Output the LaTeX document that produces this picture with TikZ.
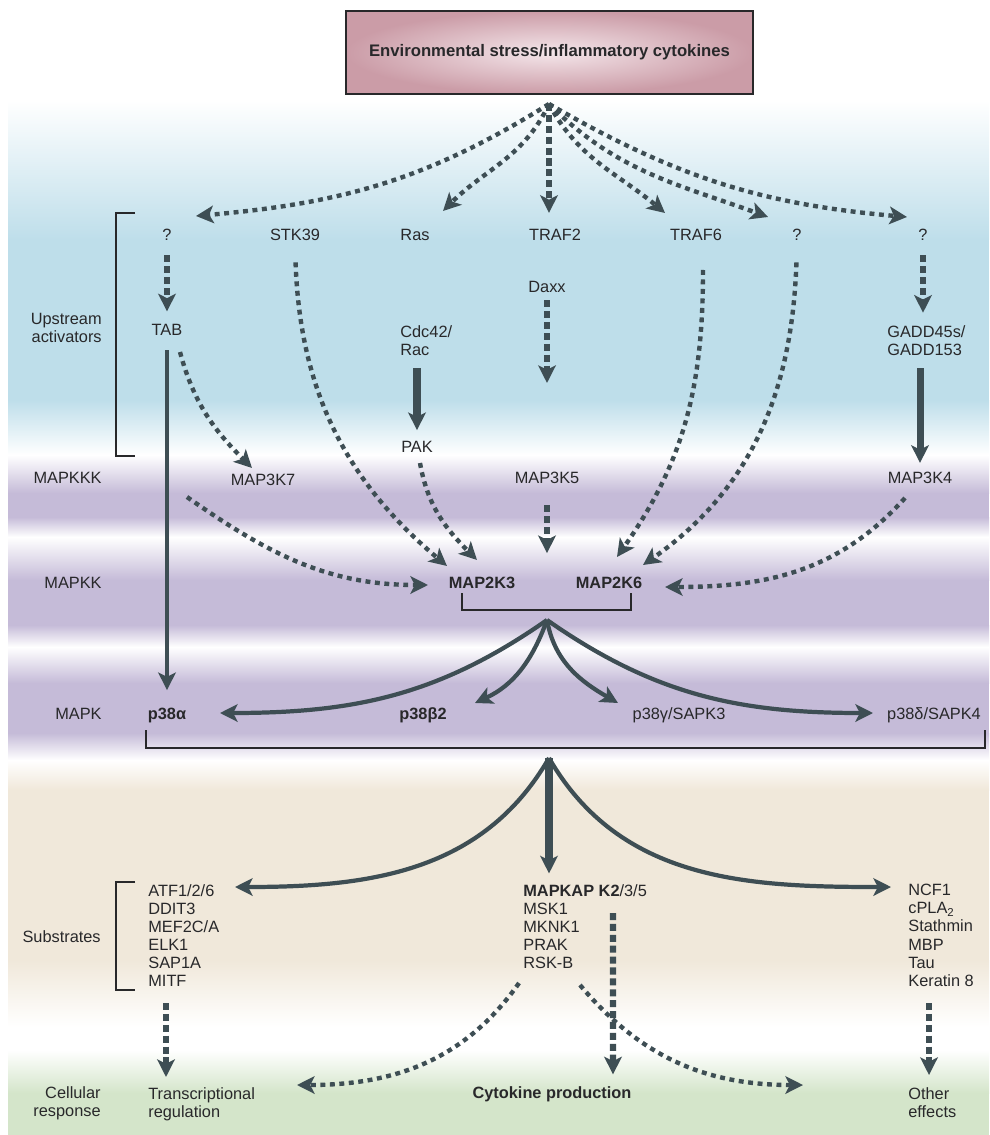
\documentclass[tikz,border=0pt]{standalone}
\usepackage{fontspec}
\setmainfont{Liberation Sans}
\usetikzlibrary{arrows.meta,calc}

\definecolor{azul}{RGB}{190,222,234}
\definecolor{lila}{RGB}{197,187,216}
\definecolor{beige}{RGB}{240,232,218}
\definecolor{verde}{RGB}{212,229,202}
\definecolor{rosa}{RGB}{203,156,167}
\definecolor{rosaclaro}{RGB}{244,230,234}
\definecolor{tinta}{RGB}{40,40,42}
\definecolor{pizarra}{RGB}{62,78,84}

\begin{document}
\begin{tikzpicture}

\tikzset{prot/.style={font=\fontsize{9.3}{10.3}\selectfont,text=tinta,text height=6.8pt,text depth=0pt,inner sep=3pt}}
\tikzset{negrita/.style={prot,font=\fontsize{9.3}{10.3}\selectfont\bfseries}}
\tikzset{lista/.style={font=\fontsize{9.3}{10.3}\selectfont,text=tinta,inner sep=0pt,anchor=north west,align=left}}
\tikzset{nivel/.style={font=\fontsize{9.3}{10.3}\selectfont,text=tinta,inner sep=0pt,anchor=east,align=right}}
\tikzset{caja/.style={draw=tinta,line width=0.9pt,minimum width=8.14cm,minimum height=1.66cm,inner color=rosaclaro,outer color=rosa,font=\fontsize{9.5}{11}\selectfont\bfseries,text=tinta}}
\tikzset{flecha/.style={-{Stealth[length=10pt,width=10pt,inset=2.5pt]},pizarra,line width=2.4pt}}
\tikzset{trazos/.style={flecha,dash pattern=on 2.8pt off 2.6pt,line width=2.5pt}}
\tikzset{trazosv/.style={flecha,dash pattern=on 4pt off 2.2pt,line width=3.6pt}}
\tikzset{corchete/.style={draw=tinta,line width=0.8pt}}

\useasboundingbox (0,0) rectangle (19.78,-22.70);

\shade[top color=white,bottom color=azul] (0.16,-2.00) rectangle (19.78,-4.80);
\fill[azul] (0.16,-4.80) rectangle (19.78,-8.00);
\shade[top color=azul,bottom color=white] (0.16,-8.00) rectangle (19.78,-9.10);
\shade[top color=white,bottom color=lila] (0.16,-9.10) rectangle (19.78,-9.86);
\fill[lila] (0.16,-9.86) rectangle (19.78,-10.34);
\shade[top color=lila,bottom color=white] (0.16,-10.34) rectangle (19.78,-10.74);
\shade[top color=white,bottom color=lila] (0.16,-10.74) rectangle (19.78,-11.60);
\fill[lila] (0.16,-11.60) rectangle (19.78,-12.50);
\shade[top color=lila,bottom color=white] (0.16,-12.50) rectangle (19.78,-12.94);
\shade[top color=white,bottom color=lila] (0.16,-12.94) rectangle (19.78,-13.66);
\fill[lila] (0.16,-13.66) rectangle (19.78,-14.66);
\shade[top color=lila,bottom color=white] (0.16,-14.66) rectangle (19.78,-15.20);
\shade[top color=white,bottom color=beige] (0.16,-15.20) rectangle (19.78,-15.80);
\fill[beige] (0.16,-15.80) rectangle (19.78,-19.20);
\shade[top color=beige,bottom color=white] (0.16,-19.20) rectangle (19.78,-20.54);
\shade[top color=white,bottom color=verde] (0.16,-21.00) rectangle (19.78,-21.86);
\fill[verde] (0.16,-21.86) rectangle (19.78,-22.70);



\draw (10.99,-1.05) node[caja](estres) {Environmental stress/inflammatory cytokines};

\draw (3.34,-4.70) node[prot](qa) {?};
\draw (5.90,-4.70) node[prot](stk) {STK39};
\draw (8.30,-4.70) node[prot](ras) {Ras};
\draw (11.10,-4.70) node[prot](traf2) {TRAF2};
\draw (13.92,-4.70) node[prot](traf6) {TRAF6};
\draw (15.94,-4.70) node[prot](qb) {?};
\draw (18.46,-4.70) node[prot](qc) {?};

\draw (10.94,-5.74) node[prot](daxx) {Daxx};
\draw (3.34,-6.60) node[prot](tab) {TAB};
\draw (8.00,-6.50) node[lista](cdc) {Cdc42/\\Rac};
\draw (17.74,-6.50) node[lista](gadd) {GADD45s/\\GADD153};
\draw (8.34,-8.94) node[prot](pak) {PAK};

\draw (2.04,-6.56) node[nivel](ups) {Upstream\\activators};
\draw (2.04,-9.56) node[nivel](mkkk) {MAPKKK};
\draw (2.04,-11.66) node[nivel](mkk) {MAPKK};
\draw (2.04,-14.28) node[nivel](mk) {MAPK};
\draw (2.02,-18.74) node[nivel](subs) {Substrates};
\draw (2.02,-22.06) node[nivel](resp) {Cellular\\response};

\draw (5.26,-9.60) node[prot](m3k7) {MAP3K7};
\draw (10.94,-9.56) node[prot](m3k5) {MAP3K5};
\draw (18.40,-9.56) node[prot](m3k4) {MAP3K4};
\draw (9.64,-11.66) node[negrita](m2k3) {MAP2K3};
\draw (12.18,-11.66) node[negrita](m2k6) {MAP2K6};

\draw (3.34,-14.28) node[negrita](p38a) {p38α};
\draw (8.46,-14.28) node[negrita](p38b) {p38β2};
\draw (13.58,-14.28) node[prot](p38g) {p38γ/SAPK3};
\draw (18.68,-14.28) node[prot](p38d) {p38δ/SAPK4};

\draw (2.96,-17.68) node[lista](sub1) {ATF1/2/6\\DDIT3\\MEF2C/A\\ELK1\\SAP1A\\MITF};
\draw (10.46,-17.68) node[lista](sub2) {\textbf{MAPKAP K2}/3/5\\MSK1\\MKNK1\\PRAK\\RSK-B};
\draw (18.16,-17.68) node[lista](sub3) {NCF1\\cPLA\textsubscript{2}\\Stathmin\\MBP\\Tau\\Keratin 8};

\draw (2.96,-21.74) node[lista](trans) {Transcriptional\\regulation};
\draw (11.04,-21.86) node[negrita](cyto) {Cytokine production};
\draw (18.16,-21.74) node[lista](other) {Other\\effects};

\draw[corchete] (2.70,-4.26) -- (2.32,-4.26) -- (2.32,-9.12) -- (2.70,-9.12);
\draw[corchete] (2.70,-17.64) -- (2.32,-17.64) -- (2.32,-19.80) -- (2.70,-19.80);
\draw[corchete] (9.24,-11.86) -- (9.24,-12.20) -- (12.62,-12.20) -- (12.62,-11.86);
\draw[corchete] (2.92,-14.60) -- (2.92,-14.96) -- (19.70,-14.96) -- (19.70,-14.60);

\coordinate (fan1) at (10.98,-2.08);
\coordinate (fan2) at (10.94,-12.40);
\coordinate (fan3) at (10.98,-15.16);
\coordinate (daxxfin) at (10.94,-7.66);

\draw[trazos] (fan1) to[out=212,in=5] ([shift={(0.58,0.38)}]qa.center);
\draw[trazos] (fan1) to[out=245,in=45] ([shift={(0.56,0.48)}]ras.center);
\draw[trazosv,shorten >=6pt] (fan1) -- (fan1 |- traf2.north);
\draw[trazos] (fan1) to[out=-62,in=140] ([shift={(-0.62,0.44)}]traf6.center);
\draw[trazos] (fan1) to[out=-45,in=160] ([shift={(-0.58,0.36)}]qb.center);
\draw[trazos] (fan1) to[out=-30,in=175] ([shift={(-0.32,0.36)}]qc.center);

\draw[trazosv,shorten <=5pt,shorten >=4pt] (qa.south) -- (tab.north);
\draw[trazosv,shorten <=5pt] (qc.south) -- ([yshift=7pt]qc.south |- gadd.north);
\draw[trazosv,shorten <=1pt] (daxx.south) -- (daxxfin);
\draw[flecha,line width=4.4pt,shorten <=7pt,shorten >=3pt] (pak |- cdc.south) -- (pak.north);
\draw[flecha,line width=4pt,shorten <=7pt,shorten >=2pt] (m3k4 |- gadd.south) -- (m3k4.north);
\draw[flecha,line width=2.8pt,shorten <=5pt,shorten >=7pt] (tab.south) -- (p38a.north);

\draw[trazos] ([shift={(0.26,-0.44)}]tab.center) to[out=-75,in=135] ([shift={(-0.22,0.24)}]m3k7.center);
\draw[trazos,shorten <=9pt] (stk.south) to[out=-88,in=140] ([shift={(-0.70,0.34)}]m2k3.center);
\draw[trazos] ([shift={(0.06,-0.32)}]pak.center) to[out=-80,in=135] ([shift={(-0.10,0.46)}]m2k3.center);
\draw[trazos] ([shift={(-1.52,-0.34)}]m3k7.center) to[out=-35,in=180] ([shift={(-1.08,-0.04)}]m2k3.center);
\draw[trazosv,shorten <=9pt,shorten >=17pt] (m3k5) -- (m3k5 |- m2k3);
\draw[trazos] ([shift={(0.14,-0.70)}]traf6.center) to[out=-90,in=55] ([shift={(0.16,0.52)}]m2k6.center);
\draw[trazos,shorten <=9pt] (qb.south) to[out=-92,in=35] ([shift={(0.68,0.36)}]m2k6.center);
\draw[trazos] ([shift={(-0.30,-0.40)}]m3k4.center) to[out=228,in=0] ([shift={(1.12,-0.08)}]m2k6.center);

\draw[flecha] (fan2) to[out=215,in=0] ([shift={(1.06,0.02)}]p38a.center);
\draw[flecha] (fan2) to[out=250,in=25] ([shift={(1.04,0.22)}]p38b.center);
\draw[flecha] (fan2) to[out=-80,in=150] ([shift={(-1.22,0.22)}]p38g.center);
\draw[flecha] (fan2) to[out=-35,in=180] ([shift={(-1.22,0.02)}]p38d.center);

\draw[flecha] (fan3) to[out=240,in=0] ([shift={(1.74,-0.06)}]sub1.north west);
\draw[flecha,line width=4.4pt,shorten >=6pt] (fan3) -- (fan3 |- sub2.north);
\draw[flecha] (fan3) to[out=-60,in=180] ([shift={(-0.34,-0.06)}]sub3.north west);

\draw[trazosv] ([shift={(0.36,-2.38)}]sub1.north west) -- ([shift={(0.36,0.20)}]trans.north west);
\draw[trazosv,shorten >=4pt] ([shift={(1.80,-0.58)}]sub2.north west) -- ([xshift=1.22cm]cyto.north);
\draw[trazosv] ([shift={(0.42,-2.38)}]sub3.north west) -- ([shift={(0.42,0.24)}]other.north west);
\draw[trazos] ([shift={(-0.08,-1.98)}]sub2.north west) to[out=235,in=0] ([shift={(2.98,0.04)}]trans.north west);
\draw[trazos] ([shift={(1.14,-2.02)}]sub2.north west) to[out=-50,in=180] ([shift={(-2.10,0.04)}]other.north west);


\end{tikzpicture}
\end{document}
